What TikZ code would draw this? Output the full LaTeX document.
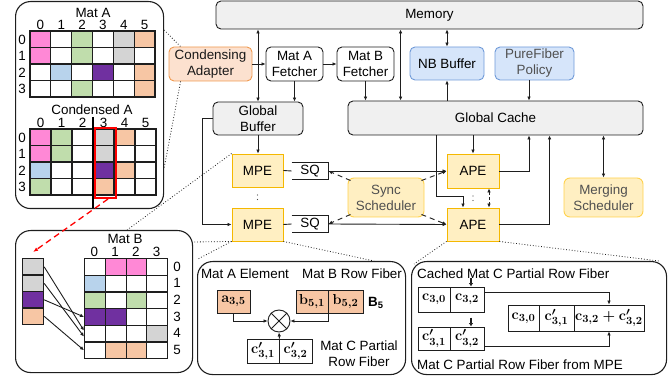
\documentclass[tikz,border=0pt]{standalone}
\usepackage[no-math]{fontspec}
\setmainfont{Liberation Sans}
\usetikzlibrary{arrows.meta}
\definecolor{cP}{HTML}{FF88D6}
\definecolor{cW}{HTML}{FFFFFF}
\definecolor{cG}{HTML}{C0DDAC}
\definecolor{cY}{HTML}{D4D4D4}
\definecolor{cO}{HTML}{F7C6A4}
\definecolor{cB}{HTML}{B8D3EC}
\definecolor{cV}{HTML}{7030A0}
\definecolor{grayfill}{HTML}{F0F0F0}
\definecolor{edge}{HTML}{1E1E1E}
\definecolor{peachfill}{HTML}{FCE1CF}
\definecolor{peachedge}{HTML}{F09A50}
\definecolor{bluefill}{HTML}{D6E5FA}
\definecolor{blueedge}{HTML}{6F9AD8}
\definecolor{yelfill}{HTML}{FFEFC2}
\definecolor{yeledge}{HTML}{F5B800}
\definecolor{yeledgetwo}{HTML}{FFD24D}
\definecolor{txtgray}{HTML}{505050}
\begin{document}
\begin{tikzpicture}[x=1pt,y=-1pt,
  lbl/.style={font=\fontsize{13.4}{16}\selectfont},
  base/.style={lbl, inner sep=0pt, align=center, line width=0.9pt},
  graybox/.style={base, draw=edge, fill=grayfill, rounded corners=5pt},
  whitebox/.style={base, draw=edge, fill=white, rounded corners=5pt},
  peachbox/.style={base, draw=peachedge, fill=peachfill, rounded corners=5pt, text=black!90},
  bluebox/.style={base, draw=blueedge, fill=bluefill, rounded corners=5pt},
  pebox/.style={base, draw=yeledge, fill=yelfill},
  schedbox/.style={base, draw=yeledgetwo, fill=yelfill, rounded corners=6pt, text=txtgray},
  panel/.style={draw=edge, line width=1.1pt, rounded corners=15pt, inner sep=0pt},
  conn/.style={line width=0.9pt, draw=edge},
  arr/.style={conn, -{Latex[length=4pt,width=3.6pt]}},
  darr/.style={conn, {Latex[length=4pt,width=3.6pt]}-{Latex[length=4pt,width=3.6pt]}},
  dsh/.style={arr, dash pattern=on 5pt off 4pt},
  dotl/.style={line width=0.8pt, dotted, draw=edge},
  dotsv/.style={line width=1.3pt, draw=edge!80, dash pattern=on 0pt off 4.5pt, line cap=round},
  cell/.style={draw=edge, line width=1.2pt},
  mcell/.style={draw=edge, line width=0.9pt, inner sep=0pt, font=\fontsize{15}{17}\selectfont\boldmath},
]
\useasboundingbox (0,0) rectangle (672,379);

% ---------- panels ----------
\node[panel, minimum width=148pt, minimum height=207pt, anchor=north west] (pA) at (15,1) {};
\node[panel, minimum width=177pt, minimum height=142pt, anchor=north west] (pB) at (15,230) {};
\node[panel, minimum width=208pt, minimum height=113pt, anchor=north west] (pM) at (197,261) {};
\node[panel, minimum width=255pt, minimum height=113pt, anchor=north west] (pR) at (411,261) {};

% ---------- Mat A ----------
\node[lbl] at (93,12.5) {Mat A};
\foreach \i in {0,...,5} \node[lbl] at ({40.4+\i*20.833},25) {\i};
\foreach \i in {0,...,3} \node[lbl] at (22,{39.5+\i*16.5}) {\i};
\foreach \rowc [count=\r from 0] in {{cP,cW,cG,cW,cY,cO},{cP,cW,cG,cW,cY,cW},{cW,cB,cW,cV,cW,cO},{cW,cW,cG,cW,cW,cO}}
  \foreach \cc [count=\c from 0] in \rowc
    \filldraw[cell, fill=\cc] ({30+\c*20.833},{31+\r*16.5}) rectangle ++(20.833,16.5);

% ---------- Condensed A ----------
\node[lbl] at (92,110) {Condensed A};
\foreach \i in {0,...,5} \node[lbl] at ({40.5+\i*21},123) {\i};
\foreach \i in {0,...,3} \node[lbl] at (22,{137.5+\i*16.5}) {\i};
\foreach \rowc [count=\r from 0] in {{cP,cG,cW,cY,cO,cW},{cP,cG,cW,cY,cW,cW},{cB,cW,cW,cV,cO,cW},{cG,cW,cW,cO,cW,cW}}
  \foreach \cc [count=\c from 0] in \rowc
    \filldraw[cell, fill=\cc] ({30+\c*21},{129+\r*16.5}) rectangle ++(21,16.5);
\draw[line width=1.8pt, black] (93,117) -- (93,208);
\node[draw=red, line width=2pt, minimum width=21pt, minimum height=70pt, inner sep=0pt, anchor=north west] (redr) at (93.5,127) {};

% ---------- Mat B ----------
\node[lbl] at (125,239) {Mat B};
\foreach \i in {0,...,3} \node[lbl] at ({94.4+\i*20.75},251.5) {\i};
\foreach \i in {0,...,5} \node[lbl] at (177,{266.5+\i*16.67}) {\i};
\foreach \rowc [count=\r from 0] in {{cW,cP,cP,cW},{cB,cW,cW,cW},{cG,cW,cG,cW},{cV,cV,cW,cW},{cW,cW,cW,cY},{cW,cO,cO,cW}}
  \foreach \cc [count=\c from 0] in \rowc
    \node[cell, fill=\cc, minimum width=20.75pt, minimum height=16.67pt, inner sep=0pt, anchor=north west] (b\r\c) at ({84+\c*20.75},{258+\r*16.67}) {};
\foreach \cc [count=\r from 0] in {cY,cY,cV,cO}
  \node[cell, fill=\cc, minimum width=21pt, minimum height=16.5pt, inner sep=0pt, anchor=north west] (l\r) at (22,{258+\r*16.5}) {};
\draw[arr] (l0.east) -- ([yshift=3pt]b40.west);
\draw[arr] (l1.east) -- ([yshift=-3pt]b40.west);
\draw[arr] (l2.east) -- (b30.west);
\draw[arr] (l3.east) -- (b50.west);
\draw[red, line width=1.3pt, dash pattern=on 6pt off 4pt, -{Latex[length=5pt,width=4pt]}] ([xshift=3pt]redr.south) -- ([yshift=6pt]l0.north);

% ---------- main blocks ----------
\node[graybox, minimum width=427pt, minimum height=28pt] (mem) at (429.5,15) {Memory};
\node[peachbox, minimum width=83pt, minimum height=34pt] (ca) at (210.5,64) {Condensing\\Adapter};
\node[whitebox, minimum width=57pt, minimum height=34pt] (maf) at (294.5,64) {Mat A\\Fetcher};
\node[whitebox, minimum width=57pt, minimum height=34pt] (mbf) at (365.5,64) {Mat B\\Fetcher};
\node[bluebox, minimum width=74pt, minimum height=33pt] (nb) at (447,63.5) {NB Buffer};
\node[bluebox, minimum width=79pt, minimum height=33pt, text=txtgray] (pf) at (534.5,63.5) {PureFiber\\Policy};
\node[graybox, minimum width=90pt, minimum height=33pt] (gb) at (258,118.5) {Global\\Buffer};
\node[graybox, minimum width=295pt, minimum height=34pt] (gc) at (495.5,118) {Global Cache};
\node[pebox, minimum width=51pt, minimum height=33pt] (mpe1) at (257.5,170.5) {MPE};
\node[pebox, minimum width=51pt, minimum height=33pt] (mpe2) at (257.5,224.5) {MPE};
\node[base, minimum width=36pt, minimum height=16pt] (sq1) at (310,171) {SQ};
\node[base, minimum width=36pt, minimum height=16pt] (sq2) at (310,224) {SQ};
\draw[conn, line width=1.1pt] (sq1.north west) -- (sq1.north east) -- (sq1.south east) -- (sq1.south west);
\draw[conn, line width=1.1pt] (sq2.north west) -- (sq2.north east) -- (sq2.south east) -- (sq2.south west);
\node[schedbox, minimum width=76pt, minimum height=39pt] (ss) at (386,197.5) {Sync\\Scheduler};
\node[pebox, minimum width=52pt, minimum height=34pt] (ape1) at (473,171) {APE};
\node[pebox, minimum width=52pt, minimum height=33pt] (ape2) at (473,224.5) {APE};
\node[schedbox, minimum width=79pt, minimum height=39pt] (ms) at (603.5,197.5) {Merging\\Scheduler};

% ---------- connectors ----------
\draw[darr] (gb.north) -- (gb.north |- mem.south);
\draw[arr] (ca.east) -- (maf.west);
\draw[arr] (maf.south) -- (maf.south |- gb.north);
\draw[arr] (maf.east) -- (mbf.west);
\draw[arr] (mbf.south) -- (mbf.south |- gc.north);
\coordinate (k401) at ([xshift=53pt]gc.north west);
\draw[darr] (k401) -- (k401 |- mem.south);
\draw[darr] (nb.north) -- (nb.north |- mem.south);
\draw[arr] (nb.south |- gc.north) -- (nb.south);
\coordinate (k529) at ([xshift=-5.5pt]pf.south);
\draw[arr] (k529) -- (k529 |- gc.north);
\draw[arr] (gb.south) -- (gb.south |- mpe1.north);
\draw[arr] (gb.west) -- ++(-10,0) |- (mpe2.west);
\draw[conn] (mpe1.east) -- (sq1.west);
\draw[conn] (mpe2.east) -- (sq2.west);
\draw[arr] (sq1.east) -- (ape1.west);
\draw[arr] (sq2.east) -- (ape2.west);
\draw[arr] (ape1.north |- gc.south) -- (ape1.north);
\draw[arr] ([xshift=89pt]gc.south west) -- ++(0,61) -| ([xshift=-10pt]ape2.north);
\draw[arr] (ape1.east) -| (k529 |- gc.south);
\coordinate (k550) at ([xshift=202pt]gc.south west);
\draw[arr] (ape2.east) -| (k550);
\draw[darr] (ms.north) -- (ms.north |- gc.south);
\draw[darr, dash pattern=on 3pt off 2pt] ([xshift=16pt]ape1.south) -- ([xshift=16pt]ape2.north);
\draw[dotsv] ([yshift=-7.5pt]mpe1.south) -- ([yshift=4pt]mpe2.north);
\draw[dotsv] ([yshift=-7.5pt]ape1.south) -- ([yshift=4pt]ape2.north);
\draw[dsh] ([shift={(3,3)}]ss.north west) -- (sq1.east);
\draw[dsh] ([shift={(-3,3)}]ss.north east) -- (ape1.west);
\draw[dsh] ([shift={(3,-3)}]ss.south west) -- (sq2.east);
\draw[dsh] ([shift={(-3,-3)}]ss.south east) -- (ape2.west);

% ---------- callout dotted lines ----------
\draw[dotl] ([shift={(0,29)}]pA.north east) -- ([xshift=12pt]ca.north west);
\draw[dotl] ([xshift=12pt]ca.south west) -- ([shift={(0,-41)}]pA.south east);
\draw[dotl] (mpe1.north west) -- ([xshift=112pt]pB.north west);
\draw[dotl] (mpe2.south west) -- ([shift={(0,12)}]pB.north east);
\draw[dotl] (mpe2.south west) -- ([shift={(1,-2)}]pM.north west);
\draw[dotl] (mpe2.south east) -- ([xshift=-32pt]pM.north east);
\draw[dotl] (ape2.south west) -- ([shift={(3,3)}]pR.north west);
\draw[dotl] (ape2.south east) -- ([xshift=-8pt]pR.north east);

% ---------- MPE detail ----------
\node[lbl] at (245,274) {Mat A Element};
\node[lbl] at (352,274) {Mat B Row Fiber};
\node[mcell, fill=cO, minimum width=33pt, minimum height=23pt] (a35) at (233.5,301.5) {$\mathbf{a}_{3,5}$};
\node[mcell, fill=cO, minimum width=32pt, minimum height=23pt] (b51) at (312,301.5) {$\mathbf{b}_{5,1}$};
\node[mcell, fill=cO, minimum width=35pt, minimum height=23pt] (b52) at (345.5,301.5) {$\mathbf{b}_{5,2}$};
\node[lbl, anchor=west, inner sep=0pt] (bfive) at (368,303) {\bfseries B\textsubscript{5}};
\node[circle, draw=edge, line width=0.9pt, minimum size=22pt, inner sep=0pt, fill=white] (ot) at (279,321) {};
\draw[conn] (ot.north west) -- (ot.south east);
\draw[conn] (ot.north east) -- (ot.south west);
\draw[arr] (a35.south) |- (ot.west);
\draw[arr] (b51.south east) |- (ot.east);
\node[mcell, fill=white, minimum width=32pt, minimum height=24pt] (c31p) at (263,351) {$\mathbf{c}'_{3,1}$};
\node[mcell, fill=white, minimum width=33pt, minimum height=24pt] (c32p) at (295.5,351) {$\mathbf{c}'_{3,2}$};
\draw[arr] (c31p.north east) -- (ot.south);
\node[lbl, align=center] at (359,354) {Mat C Partial\\Row Fiber};

% ---------- APE detail ----------
\node[lbl, anchor=west, inner sep=0pt] at (417,274) {Cached Mat C Partial Row Fiber};
\node[mcell, minimum width=32pt, minimum height=25pt] (c30) at (434,299.5) {$\mathbf{c}_{3,0}$};
\node[mcell, minimum width=34pt, minimum height=25pt] (c32) at (467,299.5) {$\mathbf{c}_{3,2}$};
\node[mcell, minimum width=32pt, minimum height=23pt] (d31) at (434,338.5) {$\mathbf{c}'_{3,1}$};
\node[mcell, minimum width=34pt, minimum height=23pt] (d32) at (467,338.5) {$\mathbf{c}'_{3,2}$};
\draw[line width=1.8pt, draw=edge, -{Latex[length=3.5pt,width=4.5pt]}] ([shift={(4,-9)}]c32.north) -- ([xshift=4pt]c32.north);
\draw[line width=1.8pt, draw=edge, -{Latex[length=3.5pt,width=4.5pt]}] ([shift={(4,-9)}]d32.north) -- ([xshift=4pt]d32.north);
\node[mcell, minimum width=31pt, minimum height=26pt] (r1) at (523.5,318) {$\mathbf{c}_{3,0}$};
\node[mcell, minimum width=35pt, minimum height=26pt] (r2) at (556.5,318) {$\mathbf{c}'_{3,1}$};
\node[mcell, minimum width=70pt, minimum height=26pt] (r3) at (609,318) {$\mathbf{c}_{3,2}+\mathbf{c}'_{3,2}$};
\draw[arr] ([yshift=7pt]c32.east) -| (r3.north);
\draw[arr] ([yshift=-8pt]d32.east) -| (r3.south);
\node[lbl, anchor=west, inner sep=0pt] at (417,365) {Mat C Partial Row Fiber from MPE};
\end{tikzpicture}
\end{document}
